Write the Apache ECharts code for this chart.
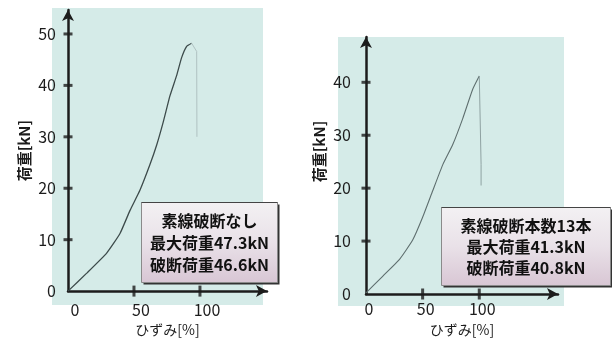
<!DOCTYPE html>
<html><head><meta charset="utf-8">
<script src="https://cdn.jsdelivr.net/npm/echarts@6/dist/echarts.min.js"></script>
<style>html,body{margin:0;padding:0;background:#fff}#c{width:612px;height:342px}</style>
</head><body><div id="c"></div>
<script>
// Left panel: no wire breakage
const leftStrain = [0, 14.2, 29.3, 39.4, 47.0, 54.5, 62.1, 67.2, 72.2, 77.3, 82.3, 86.1, 89.9, 93.7];
const leftLoad   = [0, 3.5, 7.4, 11.2, 15.7, 19.6, 24.6, 28.4, 32.9, 38.0, 41.9, 45.4, 47.6, 48.2];
const leftDropStrain = [93.7, 97.5, 97.7];
const leftDropLoad   = [48.2, 46.6, 30.0];
// Right panel: 13 wires broken
const rightStrain = [0, 14.7, 29.4, 41.2, 50.0, 58.9, 67.7, 76.5, 85.3, 94.2, 100.0];
const rightLoad   = [0.2, 3.35, 6.5, 10.2, 14.5, 19.5, 24.4, 28.2, 33.1, 38.7, 41.2];
const rightDropStrain = [100.0, 101.6, 101.6];
const rightDropLoad   = [41.2, 24.5, 20.5];

const xTicks = [0, 50, 100];
const yTicksLeft = [0, 10, 20, 30, 40, 50];
const yTicksRight = [0, 10, 20, 30, 40];

const boxTextLeft = ['素線破断なし', '最大荷重47.3kN', '破断荷重46.6kN'];
const boxTextRight = ['素線破断本数13本', '最大荷重41.3kN', '破断荷重40.8kN'];

const xName = 'ひずみ[%]';
const yName = '荷重[kN]';

const FONT = '"Noto Sans CJK JP", "Noto Sans", sans-serif';
const INK = '#1c1c1c';
const CURVE = '#3d4b4b';

function zip(a, b) { return a.map((v, i) => [v, b[i]]); }

function xAxisCfg(gi, max, margin, pad) {
  return {
    type: 'value', gridIndex: gi, min: 0, max: max,
    name: xName, nameLocation: 'middle', nameGap: 29,
    nameTextStyle: { fontFamily: FONT, fontSize: 14, color: INK },
    axisLine: { show: true, onZero: false, symbol: ['none', 'arrow'], symbolSize: [9, 11],
      lineStyle: { color: INK, width: 2.5 } },
    axisTick: { show: false },
    splitLine: { show: false },
    axisLabel: { customValues: xTicks, margin: margin, padding: pad,
      fontFamily: FONT, fontSize: 16, color: INK }
  };
}
function yAxisCfg(gi, max, ticks, margin, gap, npad) {
  return {
    type: 'value', gridIndex: gi, min: 0, max: max,
    name: yName, nameLocation: 'middle', nameGap: gap, nameRotate: 90,
    nameTextStyle: { fontFamily: FONT, fontSize: 15, fontWeight: 'bold', color: INK, padding: npad },
    axisLine: { show: true, onZero: false, symbol: ['none', 'arrow'], symbolSize: [9, 11],
      lineStyle: { color: INK, width: 2.5 } },
    axisTick: { show: false },
    splitLine: { show: false },
    axisLabel: { customValues: ticks, margin: margin,
      fontFamily: FONT, fontSize: 16, color: INK }
  };
}

function boxGraphic(x, y, w, h, lines, lh) {
  return {
    type: 'group', left: x, top: y, z: 100,
    children: [
      { type: 'rect', shape: { x: 2, y: 2, width: w, height: h },
        style: { fill: '#333' } },
      { type: 'rect', shape: { x: 0, y: 0, width: w, height: h },
        style: { fill: new echarts.graphic.LinearGradient(0, 0, 0, 1, [
            { offset: 0, color: '#f3f1f3' }, { offset: 0.5, color: '#e9e1e8' }, { offset: 1, color: '#d8c6d4' }]),
          stroke: '#8a8a8a', lineWidth: 1 } },
      { type: 'line', shape: { x1: 0, y1: 0, x2: w, y2: 0 }, style: { stroke: '#444', lineWidth: 1.2 } },
      { type: 'text', x: w / 2, y: h / 2,
        style: { text: lines.join('\n'), align: 'center', verticalAlign: 'middle',
          font: 'bold 16px ' + FONT, fill: '#111', lineHeight: lh } }
    ]
  };
}

const chart = echarts.init(document.getElementById('c'), null, { renderer: 'canvas' });
chart.setOption({
  animation: false,
  backgroundColor: '#ffffff',
  grid: [
    { left: 68, top: 10, width: 199, height: 285 },
    { left: 366, top: 37, width: 192, height: 261 }
  ],
  xAxis: [
    xAxisCfg(0, 150.8, 11, [0, 0, 0, 14]),
    xAxisCfg(1, 169.5, 7, [0, 0, 0, 6])
  ],
  yAxis: [
    yAxisCfg(0, 54.66, yTicksLeft, 12, 36, [0, 0, 0, 0]),
    yAxisCfg(1, 48.56, yTicksRight, 15, 39, [0, 0, 0, 28])
  ],
  graphic: [
    { type: 'rect', left: 52, top: 8, z: -10, shape: { width: 211, height: 297 },
      style: { fill: '#d5ebe8' } },
    { type: 'rect', left: 338, top: 37, z: -10, shape: { width: 226, height: 269 },
      style: { fill: '#d5ebe8' } },
    boxGraphic(139, 200, 136, 80, boxTextLeft, 22),
    boxGraphic(439, 205, 169, 78, boxTextRight, 21)
  ],
  series: [
    { type: 'line', xAxisIndex: 0, yAxisIndex: 0, data: zip(leftStrain, leftLoad),
      showSymbol: false, smooth: 0.15, lineStyle: { color: CURVE, width: 1.3 } },
    { type: 'line', xAxisIndex: 0, yAxisIndex: 0, data: zip(leftDropStrain, leftDropLoad),
      showSymbol: false, lineStyle: { color: '#b0c2c2', width: 1 } },
    { type: 'line', xAxisIndex: 1, yAxisIndex: 1, data: zip(rightStrain, rightLoad),
      showSymbol: false, smooth: 0.15, lineStyle: { color: '#5e6e6e', width: 1.1 } },
    { type: 'line', xAxisIndex: 1, yAxisIndex: 1, data: zip(rightDropStrain, rightDropLoad),
      showSymbol: false, lineStyle: { color: '#8fa2a2', width: 1 } },
    // cross-style tick marks
    { type: 'scatter', xAxisIndex: 0, yAxisIndex: 0, clip: false, silent: true,
      data: yTicksLeft.filter(v => v > 0).map(v => [0, v]),
      symbol: 'rect', symbolSize: [9, 3], itemStyle: { color: INK } },
    { type: 'scatter', xAxisIndex: 0, yAxisIndex: 0, clip: false, silent: true,
      data: xTicks.filter(v => v > 0).map(v => [v, 0]),
      symbol: 'rect', symbolSize: [3, 11], itemStyle: { color: INK } },
    { type: 'scatter', xAxisIndex: 1, yAxisIndex: 1, clip: false, silent: true,
      data: yTicksRight.filter(v => v > 0).map(v => [0, v]),
      symbol: 'rect', symbolSize: [9, 3], itemStyle: { color: INK } },
    { type: 'scatter', xAxisIndex: 1, yAxisIndex: 1, clip: false, silent: true,
      data: xTicks.filter(v => v > 0).map(v => [v, 0]),
      symbol: 'rect', symbolSize: [3, 11], itemStyle: { color: INK } }
  ]
});
</script>
</body></html>
